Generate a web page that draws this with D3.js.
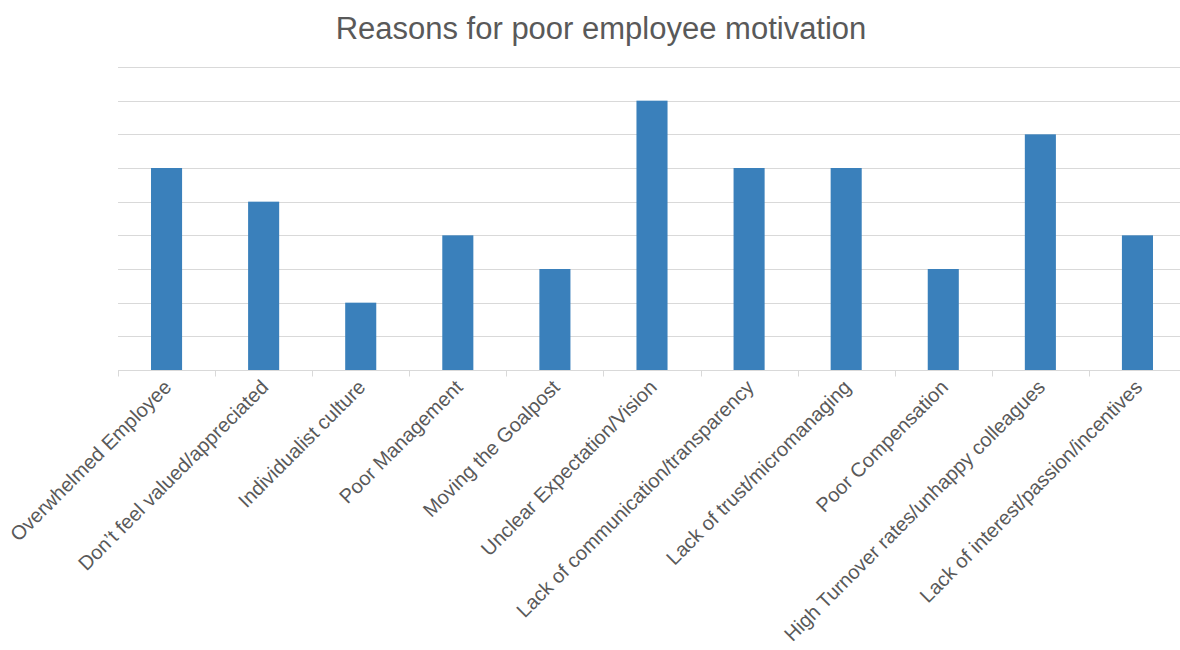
<!DOCTYPE html>
<html>
<head>
<meta charset="utf-8">
<script src="https://cdn.jsdelivr.net/npm/d3@7"></script>
<style>
    body { margin: 0; background: #fff; }
    text { font-family: "Liberation Sans", Arial, sans-serif; fill: #595959; }
</style>
</head>
<body>
<div id="chart"></div>
<script>
// reasons and counts
let reasons = ["Overwhelmed Employee", "Don\u2019t feel valued/appreciated", "Individualist culture",
    "Poor Management", "Moving the Goalpost", "Unclear Expectation/Vision",
    "Lack of communication/transparency", "Lack of trust/micromanaging", "Poor Compensation",
    "High Turnover rates/unhappy colleagues", "Lack of interest/passion/incentives"];
let counts = [6, 5, 2, 4, 3, 8, 6, 6, 3, 7, 4];
let gridTicks = [1, 2, 3, 4, 5, 6, 7, 8, 9];

let W = 1180, H = 650;
let margin = {top: 67, right: -6, bottom: 280, left: 118};
let width = W - margin.left - margin.right;
let height = H - margin.top - margin.bottom;

let svg = d3.select("#chart").append("svg")
    .attr("width", W)
    .attr("height", H);

let g = svg.append("g")
    .attr("transform", "translate(" + margin.left + "," + margin.top + ")");

let x = d3.scaleBand()
    .domain(reasons)
    .range([0, width])
    .padding(0);

let y = d3.scaleLinear()
    .domain([0, 9])
    .range([height, 0]);

// gridlines
g.selectAll(".grid")
    .data(gridTicks)
    .enter().append("line")
    .attr("class", "grid")
    .attr("x1", 0)
    .attr("x2", width)
    .attr("y1", d => Math.round(y(d)) + 0.5)
    .attr("y2", d => Math.round(y(d)) + 0.5)
    .attr("stroke", "#d9d9d9")
    .attr("stroke-width", 1);

// bars
let barW = x.bandwidth() * 0.32;
g.selectAll(".bar")
    .data(reasons)
    .enter().append("rect")
    .attr("class", "bar")
    .attr("x", d => x(d) + (x.bandwidth() - barW) / 2)
    .attr("width", barW)
    .attr("y", (d, i) => y(counts[i]))
    .attr("height", (d, i) => height - y(counts[i]))
    .attr("fill", "#3a80bb");

// x axis: baseline, ticks between categories
let axis = g.append("g")
    .attr("class", "x-axis")
    .attr("transform", "translate(0," + (Math.round(height) + 0.5) + ")");

axis.append("line")
    .attr("x1", 0).attr("x2", width)
    .attr("stroke", "#d9d9d9");

axis.selectAll(".tick-mark")
    .data(reasons)
    .enter().append("line")
    .attr("class", "tick-mark")
    .attr("x1", d => Math.round(x(d)) + 0.5)
    .attr("x2", d => Math.round(x(d)) + 0.5)
    .attr("y1", 0)
    .attr("y2", 6)
    .attr("stroke", "#d9d9d9");

axis.selectAll(".label")
    .data(reasons)
    .enter().append("text")
    .attr("class", "label")
    .attr("transform", d => "translate(" + (x(d) + x.bandwidth() / 2 + 6) + ",18) rotate(-45)")
    .attr("text-anchor", "end")
    .style("font-size", "20px")
    .text(d => d);

// title
svg.append("text")
    .attr("x", 601)
    .attr("y", 39)
    .attr("text-anchor", "middle")
    .style("font-size", "31px")
    .text("Reasons for poor employee motivation");
</script>
</body>
</html>
